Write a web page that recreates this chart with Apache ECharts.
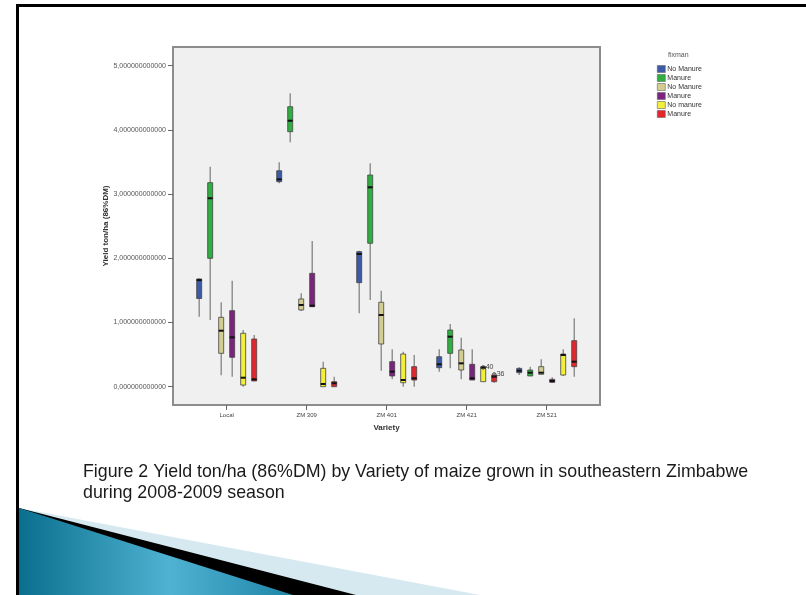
<!DOCTYPE html>
<html>
<head>
<meta charset="utf-8">
<script src="https://cdn.jsdelivr.net/npm/echarts@6/dist/echarts.min.js"></script>
<style>html,body{margin:0;padding:0;background:#fff;}#c{width:806px;height:595px;}</style>
</head>
<body>
<div id="c"></div>
<script>
// ---- data ----
const categories = ['Local', 'ZM 309', 'ZM 401', 'ZM 421', 'ZM 521'];
const yTicks = [0, 1, 2, 3, 4, 5];
const seriesNames = ['No Manure', 'Manure', 'No Manure', 'Manure', 'No manure', 'Manure'];
const seriesColors = ['#3c5aa8', '#2eb040', '#d3cd92', '#7c237f', '#f2ee3a', '#e4262c'];
// each row per category: [min, Q1, median, Q3, max]
const s1 = [[1.09,1.374,1.66,1.678,1.685],[3.168,3.193,3.23,3.364,3.495],[1.143,1.62,2.067,2.103,2.118],[0.234,0.296,0.349,0.467,0.582],[0.182,0.218,0.249,0.286,0.302]];
const s2 = [[1.039,2.0,2.935,3.178,3.427],[3.807,3.972,4.143,4.361,4.57],[1.35,2.234,3.106,3.297,3.48],[0.286,0.52,0.779,0.883,0.977],[0.167,0.167,0.218,0.26,0.312]];
const s3 = [[0.178,0.52,0.872,1.081,1.315],[1.179,1.195,1.273,1.366,1.455],[0.249,0.665,1.117,1.315,1.495],[0.115,0.26,0.364,0.572,0.763],[0.193,0.193,0.218,0.312,0.427]];
const s4 = [[0.156,0.458,0.769,1.184,1.651],[1.246,1.246,1.262,1.766,2.27],[0.115,0.167,0.234,0.39,0.582],[0.104,0.104,0.131,0.349,0.582],[0.057,0.068,0.089,0.115,0.146]];
const s5 = [[0.0,0.026,0.14,0.832,0.883],[0.0,0.0,0.042,0.286,0.39],[0.0,0.062,0.104,0.509,0.545],[0.078,0.078,0.296,0.312,0.327],[0.167,0.182,0.494,0.509,0.582]];
const s6 = [[0.089,0.089,0.115,0.743,0.805],[0.0,0.0,0.053,0.078,0.156],[0.0,0.104,0.131,0.312,0.494],[0.062,0.078,0.156,0.182,0.218],[0.156,0.312,0.39,0.717,1.065]];
const allSeries = [s1, s2, s3, s4, s5, s6];
// outliers: [category index, series index, value, case label]
const outliers = [[3, 4, 0.30, '40'], [3, 5, 0.19, '36']];

const SLOT = 0.1375; // fraction of category spacing per box slot

function fmtY(v) { return v.toFixed(12).replace('.', ','); }

const chart = echarts.init(document.getElementById('c'), null, {renderer: 'canvas'});

const series = allSeries.map((rows, si) => ({
  type: 'custom',
  name: seriesNames[si] + ' '.repeat(si >= 2 && si !== 4 ? (si === 5 ? 2 : 1) : 0),
  itemStyle: {color: seriesColors[si], borderColor: '#555', borderWidth: 0.8},
  data: rows.map((r, ci) => [ci].concat(r)),
  encode: {x: 0, y: [1, 2, 3, 4, 5]},
  renderItem: function (params, api) {
    const ci = api.value(0);
    const unit = api.size([1, 0])[0];
    const dx = (si - 2.5) * SLOT * unit;
    const pMin = api.coord([ci, api.value(1)]);
    const pQ1 = api.coord([ci, api.value(2)]);
    const pMed = api.coord([ci, api.value(3)]);
    const pQ3 = api.coord([ci, api.value(4)]);
    const pMax = api.coord([ci, api.value(5)]);
    const x = pMin[0] + dx;
    const w = 5;
    const boxH = Math.max(pQ1[1] - pQ3[1], 1.5);
    return {
      type: 'group',
      children: [
        {type: 'line', shape: {x1: x, y1: pMax[1], x2: x, y2: pMin[1]}, style: {stroke: '#7a7a7a', lineWidth: 1.2}},
        {type: 'rect', shape: {x: x - w / 2, y: pQ3[1], width: w, height: boxH},
          style: {fill: seriesColors[si], stroke: '#444', lineWidth: 0.8}},
        {type: 'rect', shape: {x: x - w / 2, y: pMed[1] - 1, width: w, height: 2},
          style: {fill: '#111'}}
      ]
    };
  }
}));

series.push({
  type: 'custom',
  name: 'outliers',
  data: outliers.map(o => [o[0], o[2], o[1]]),
  encode: {x: 0, y: 1},
  renderItem: function (params, api) {
    const ci = api.value(0);
    const si = api.value(2);
    const unit = api.size([1, 0])[0];
    const p = api.coord([ci, api.value(1)]);
    const x = p[0] + (si - 2.5) * SLOT * unit;
    const lbl = outliers[params.dataIndex][3];
    return {
      type: 'group',
      children: [
        {type: 'circle', shape: {cx: x, cy: p[1], r: 1.8}, style: {fill: 'none', stroke: '#333', lineWidth: 0.8}},
        {type: 'text', style: {x: x + 2.5, y: p[1], text: lbl, fontSize: 7, fill: '#444', verticalAlign: 'middle', fontFamily: 'Liberation Sans, Arial'}}
      ]
    };
  }
});

const option = {
  animation: false,
  backgroundColor: '#ffffff',
  textStyle: {fontFamily: 'Liberation Sans, Arial, sans-serif'},
  grid: {left: 173, top: 47, width: 427, height: 358, show: true,
    backgroundColor: '#f0f0f0', borderColor: '#8c8c8c', borderWidth: 2},
  legend: {
    orient: 'vertical', left: 657, top: 65, padding: 0, itemWidth: 8, itemHeight: 7, itemGap: 1.0,
    icon: 'rect', itemStyle: {borderColor: '#666', borderWidth: 0.6},
    textStyle: {fontSize: 7, lineHeight: 8, color: '#333', padding: [0, 0, 0, -3]},
    data: series.slice(0, 6).map(s => s.name)
  },
  xAxis: {
    type: 'value', min: -0.671, max: 4.666,
    axisLine: {show: false, onZero: false}, splitLine: {show: false},
    axisTick: {show: true, length: 5, lineStyle: {color: '#666'}, customValues: [0, 1, 2, 3, 4]},
    axisLabel: {fontSize: 6, color: '#444', margin: 7, customValues: [0, 1, 2, 3, 4],
      formatter: v => categories[Math.round(v)] || ''},
    name: 'Variety', nameLocation: 'middle', nameGap: 19, nameMoveOverlap: false,
    nameTextStyle: {fontSize: 8, fontWeight: 'bold', color: '#333'}
  },
  yAxis: {
    type: 'value', min: -0.285, max: 5.291,
    axisLine: {show: false, onZero: false}, splitLine: {show: false},
    axisTick: {show: true, length: 5, lineStyle: {color: '#666'}, customValues: yTicks},
    axisLabel: {fontSize: 7, color: '#555', margin: 7, customValues: yTicks, formatter: fmtY},
    name: 'Yield ton/ha (86%DM)', nameLocation: 'middle', nameGap: 63, nameMoveOverlap: false,
    nameTextStyle: {fontSize: 8, fontWeight: 'bold', color: '#333'}
  },
  graphic: [
    {type: 'rect', shape: {x: 16, y: 4, width: 800, height: 3}, style: {fill: '#000'}, silent: true},
    {type: 'rect', shape: {x: 16, y: 4, width: 3, height: 600}, style: {fill: '#000'}, silent: true},
    {type: 'polygon', shape: {points: [[19, 508], [480, 595], [19, 595]]}, style: {fill: '#d6e9f1'}, silent: true},
    {type: 'polygon', shape: {points: [[19, 508], [356, 595], [19, 595]]}, style: {fill: '#000'}, silent: true},
    {type: 'polygon', shape: {points: [[19, 508], [293, 595], [19, 595]]}, silent: true,
      style: {fill: new echarts.graphic.LinearGradient(0, 0, 1, 0, [
        {offset: 0, color: '#0a6f8e'}, {offset: 0.55, color: '#4fb2d2'}, {offset: 1, color: '#1f86a8'}])}},
    {type: 'text', left: 83, top: 462, silent: true,
      style: {text: 'Figure 2 Yield ton/ha (86%DM) by Variety of maize grown in southeastern Zimbabwe\nduring 2008-2009 season',
        fontSize: 17.8, lineHeight: 21, fill: '#1a1a1a', fontFamily: 'Liberation Sans, Arial'}},
    {type: 'text', left: 668, top: 52, silent: true,
      style: {text: 'fixman', fontSize: 7, fill: '#555', fontFamily: 'Liberation Sans, Arial'}}
  ],
  series: series
};
chart.setOption(option);
</script>
</body>
</html>
